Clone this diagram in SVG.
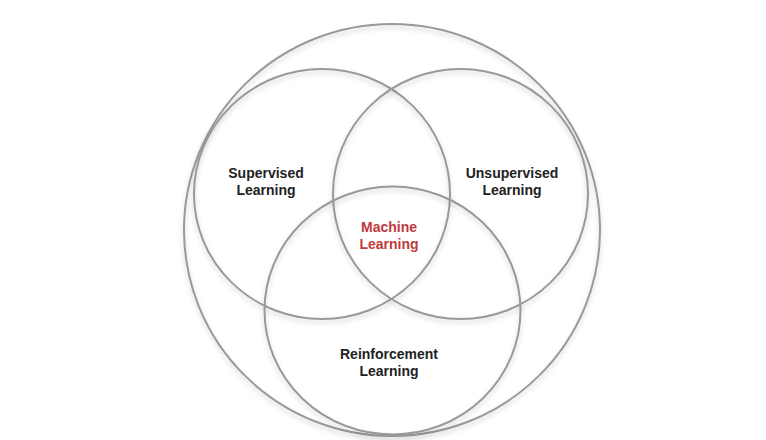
<svg xmlns="http://www.w3.org/2000/svg" width="766" height="440" viewBox="0 0 766 440">
<defs>
<filter id="sh" x="-10%" y="-10%" width="120%" height="120%">
<feDropShadow dx="0" dy="3" stdDeviation="2.5" flood-color="#000" flood-opacity="0.18"/>
</filter>
<style>
.c{fill:none;stroke:#999;stroke-width:2;filter:url(#sh)}
.t{font-family:"Liberation Sans",Arial,sans-serif;font-weight:bold;font-size:14px;fill:#222;text-anchor:middle}
.r{fill:#c0393b}
</style>
</defs>
<rect width="766" height="440" fill="#fff"/>
<g id="outer"><ellipse class="c" cx="392" cy="230" rx="208" ry="206"/></g>
<g id="supervised"><ellipse class="c" cx="322" cy="194" rx="128" ry="125"/><text class="t" x="266" y="178">Supervised</text><text class="t" x="266" y="195">Learning</text></g>
<g id="unsupervised"><ellipse class="c" cx="460.5" cy="194" rx="127.5" ry="125"/><text class="t" x="512" y="178">Unsupervised</text><text class="t" x="512" y="195">Learning</text></g>
<g id="reinforcement"><ellipse class="c" cx="392.5" cy="310.5" rx="128" ry="124"/><text class="t" x="389" y="359">Reinforcement</text><text class="t" x="389" y="376">Learning</text></g>
<g id="machine"><text class="t r" x="389" y="232">Machine</text><text class="t r" x="389" y="249">Learning</text></g>
<g id="connectors"></g>
</svg>
